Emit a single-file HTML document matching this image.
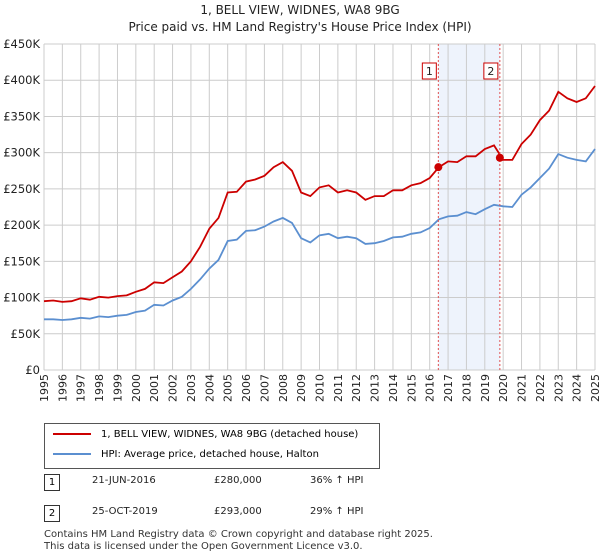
<!DOCTYPE html>
<html><head><meta charset="utf-8"><style>
body{margin:0;background:#fff;font-family:"DejaVu Sans","Liberation Sans",sans-serif;}
#wrap{position:relative;width:600px;height:560px;overflow:hidden;}
.t{position:absolute;font-size:11px;color:#222;white-space:nowrap;}
</style></head><body><div id="wrap">
<div class="t" style="left:0;width:600px;text-align:center;top:2px;font-size:12px;line-height:17px">1, BELL VIEW, WIDNES, WA8 9BG<br>Price paid vs. HM Land Registry's House Price Index (HPI)</div>
<svg id="chart" width="600" height="410" style="position:absolute;left:0;top:0"></svg>
<div style="position:absolute;left:44px;top:423px;width:336px;height:46px;border:1px solid #555;box-sizing:border-box">
<div style="position:absolute;left:8px;top:5px;font-size:10px;white-space:nowrap"><span style="display:inline-block;width:38px;border-top:2px solid #cc0000;vertical-align:middle;margin-right:10px"></span>1, BELL VIEW, WIDNES, WA8 9BG (detached house)</div>
<div style="position:absolute;left:8px;top:25px;font-size:10px;white-space:nowrap"><span style="display:inline-block;width:38px;border-top:2px solid #5b8fd0;vertical-align:middle;margin-right:10px"></span>HPI: Average price, detached house, Halton</div>
</div>
<div style="position:absolute;left:44px;top:474px;width:16px;height:17px;border:1px solid #333;box-sizing:border-box;font-size:10px;text-align:center;line-height:15px">1</div>
<div class="t" style="left:92px;top:475px;font-size:10px">21-JUN-2016</div>
<div class="t" style="left:214px;top:475px;font-size:10px">£280,000</div>
<div class="t" style="left:310px;top:475px;font-size:10px">36% ↑ HPI</div>
<div style="position:absolute;left:44px;top:505px;width:16px;height:17px;border:1px solid #333;box-sizing:border-box;font-size:10px;text-align:center;line-height:15px">2</div>
<div class="t" style="left:92px;top:506px;font-size:10px">25-OCT-2019</div>
<div class="t" style="left:214px;top:506px;font-size:10px">£293,000</div>
<div class="t" style="left:310px;top:506px;font-size:10px">29% ↑ HPI</div>
<div class="t" style="left:44px;top:529px;font-size:10px;line-height:12px;color:#333">Contains HM Land Registry data © Crown copyright and database right 2025.<br>This data is licensed under the Open Government Licence v3.0.</div>
</div>
<script>
const years=[1995,1996,1997,1998,1999,2000,2001,2002,2003,2004,2005,2006,2007,2008,2009,2010,2011,2012,2013,2014,2015,2016,2017,2018,2019,2020,2021,2022,2023,2024,2025];
const yTicks=[0,50,100,150,200,250,300,350,400,450];
const yTickLabels=["£0","£50K","£100K","£150K","£200K","£250K","£300K","£350K","£400K","£450K"];
const hpi=[70,70,69,70,72,71,74,73,75,76,80,82,90,89,96,101,112,125,140,152,178,180,192,193,198,205,210,203,182,176,186,188,182,184,182,174,175,178,183,184,188,190,196,208,212,213,218,215,222,228,226,225,242,252,265,278,298,293,290,288,305];
const price=[95,96,94,95,99,97,101,100,102,103,108,112,121,120,128,136,150,170,195,210,245,246,260,263,268,280,287,275,245,240,252,255,245,248,245,235,240,240,248,248,255,258,265,280,288,287,295,295,305,310,290,290,312,325,345,358,384,375,370,375,392];
const sales=[2016.47,2019.82];
const saleValues=[280,293];
const saleLabels=["1","2"];
const X0=44,X1=595,Y0=370,Y1=44;
const xs=t=>X0+(t-1995)/30*(X1-X0);
const ys=v=>Y0-v/450*(Y0-Y1);
const svg=document.getElementById('chart');const NS="http://www.w3.org/2000/svg";
const FF='DejaVu Sans, Liberation Sans, sans-serif';
function mk(tag,a,p){const e=document.createElementNS(NS,tag);for(const k in a)e.setAttribute(k,a[k]);(p||svg).appendChild(e);return e;}
let r=mk('rect',{x:xs(sales[0]),y:Y1,width:xs(sales[1])-xs(sales[0]),height:Y0-Y1,fill:'#eef3fc'});


years.forEach(y=>{const l=mk('line',{x1:xs(y),x2:xs(y),y1:Y1,y2:Y0,stroke:'#ccc'});


const t=mk('text',{x:0,y:0,transform:`translate(${xs(y)+4},${Y0+4}) rotate(-90)`,'text-anchor':'end','font-size':11,fill:'#222','font-family':FF});t.textContent=y;

});
yTicks.forEach((v,i)=>{const l=mk('line',{x1:X0,x2:X1,y1:ys(v),y2:ys(v),stroke:'#ccc'});


const t=mk('text',{x:X0-4,y:ys(v)+4,'text-anchor':'end','font-size':11.5,fill:'#222','font-family':FF});t.textContent=yTickLabels[i];

});
function series(arr,col,name){const d=arr.map((v,i)=>(i?'L':'M')+xs(1995+i*0.5).toFixed(1)+' '+ys(v).toFixed(1)).join(' ');
const p=mk('path',{d:d,fill:'none',stroke:col,'stroke-width':1.8});

}
series(hpi,'#5b8fd0','hpi-line');
series(price,'#cc0000','price-paid-line');
sales.forEach((s,i)=>{const l=mk('line',{x1:xs(s),x2:xs(s),y1:Y1,y2:Y0,stroke:'#e05050','stroke-dasharray':'2,2'});


const c=mk('circle',{cx:xs(s),cy:ys(saleValues[i]),r:4,fill:'#cc0000'});


const b=mk('rect',{x:xs(s)-16,y:63,width:14,height:16,fill:'#fff',stroke:'#cc0000'});


const t=mk('text',{x:xs(s)-9,y:75,'text-anchor':'middle','font-size':11,fill:'#222','font-family':FF});t.textContent=saleLabels[i];

});
</script></body></html>
